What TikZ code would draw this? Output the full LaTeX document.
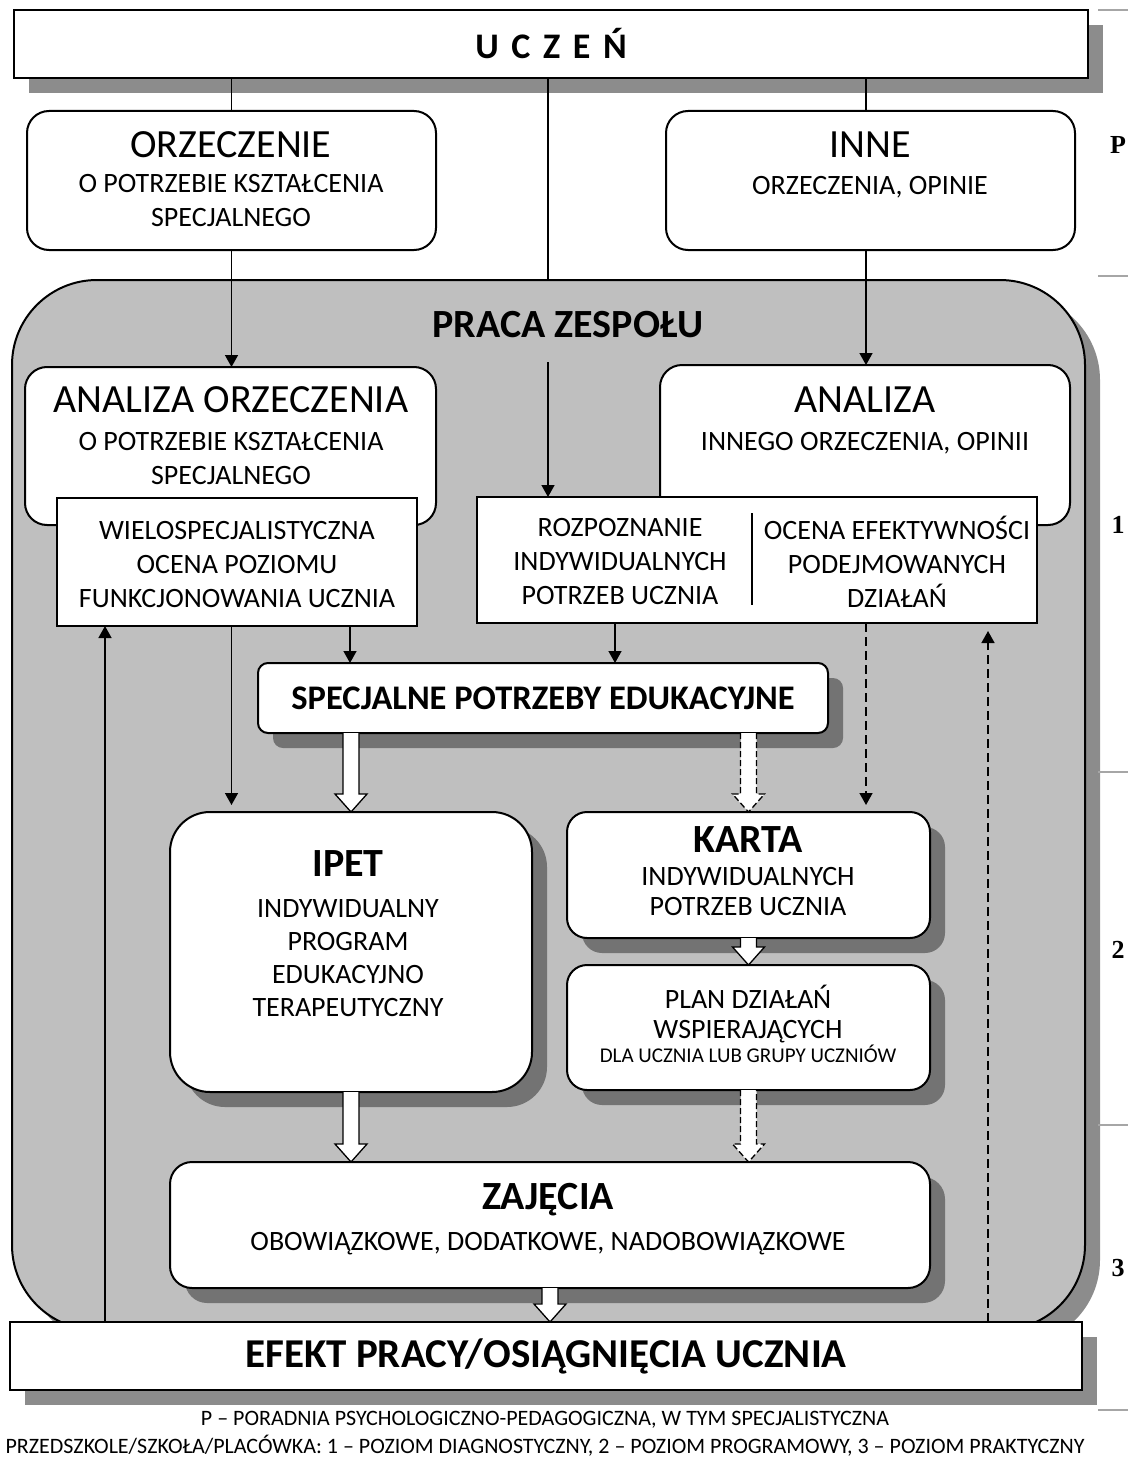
\documentclass[tikz,border=0pt]{standalone}
\usepackage{fontspec}
\setmainfont{Carlito}
\newfontfamily\sidefont{Liberation Serif}
\usetikzlibrary{arrows.meta,calc}

\newcommand\headsize{\fontsize{40}{44}\selectfont}
\newcommand\subsize{\fontsize{28}{34}\selectfont}
\newcommand\tinysize{\fontsize{21}{24}\selectfont}
\newcommand\notesize{\fontsize{22}{26}\selectfont}

\tikzset{
  box/.style={draw, line width=2pt, fill=white, inner sep=0pt, outer sep=0pt},
  shade/.style={preaction={draw=none, fill=black!45, transform canvas={shift={(15pt,-15pt)}}}},
  shadein/.style={preaction={draw=none, fill=black!55, transform canvas={shift={(15pt,-15pt)}}}},
  region/.style={draw, line width=2pt, fill=black!25, inner sep=0pt, rounded corners=85pt},
  head/.style={font=\headsize},
  bhead/.style={font=\bfseries\headsize},
  sub/.style={font=\subsize, align=center},
  arr/.style={-{Triangle[length=12pt,width=13pt]}, line width=1.5pt},
  darr/.style={arr, dash pattern=on 9pt off 5pt},
  side/.style={font=\sidefont\bfseries\fontsize{26}{26}\selectfont},
  tick/.style={draw=black!35, line width=1.2pt}
}

% hollow block arrow between two points
\newcommand\fatarrow[3][]{%
  \draw[line width=1.3pt, fill=white, #1] ($(#2)+(-8,0)$) -- ($(#3)+(-8,-18)$)
    -- ($(#3)+(-16,-18)$) -- (#3) -- ($(#3)+(16,-18)$) -- ($(#3)+(8,-18)$)
    -- ($(#2)+(8,0)$);}

\begin{document}
\begin{tikzpicture}[x=1pt,y=-1pt]
  \useasboundingbox (0,0) rectangle (1131,1458);

  \node[region, shade, minimum width=1073pt, minimum height=1050pt] (zespol) at (548.5,805) {};
  \node[box, shade, minimum width=1074pt, minimum height=68pt,
    font=\bfseries\fontsize{36}{40}\selectfont] (ucz) at (551,44)
    {U\hspace{.35em}C\hspace{.35em}Z\hspace{.35em}E\hspace{.35em}Ń};
  \draw[line width=1.5pt] (ucz.south -| 548,0) -- (zespol.north -| 548,0);

  % poradnia
  \node[box, rounded corners=22pt, minimum width=409pt, minimum height=139pt] (orz) at (231.5,180.5) {};
  \node[head] (orzT) at (231,145) {ORZECZENIE};
  \node[sub] (orzS) at (231,201) {O POTRZEBIE KSZTAŁCENIA\\SPECJALNEGO};
  \node[box, rounded corners=22pt, minimum width=409pt, minimum height=139pt] (inne) at (870.5,180.5) {};
  \node[head] (inneT) at (870,145) {INNE};
  \node[sub] (inneS) at (870,187) {ORZECZENIA, OPINIE};
  \draw[line width=1.5pt] (ucz.south -| orz.north) -- (orz.north);
  \draw[line width=1.5pt] (ucz.south -| 866,0) -- (inne.north -| 866,0);

  % praca zespolu
  \node[bhead] (zespolT) at (568,325) {PRACA ZESPOŁU};
  \coordinate (zespolIn) at (548,362);

  \node[box, rounded corners=22pt, minimum width=411pt, minimum height=158pt] (aorz) at (230.5,446) {};
  \node[head] (aorzT) at (231,400) {ANALIZA ORZECZENIA};
  \node[sub] (aorzS) at (231,459) {O POTRZEBIE KSZTAŁCENIA\\SPECJALNEGO};
  \node[box, rounded corners=22pt, minimum width=410pt, minimum height=160pt] (ainne) at (865,445) {};
  \node[head] (ainneT) at (865,400) {ANALIZA};
  \node[sub] (ainneS) at (865,443) {INNEGO ORZECZENIA, OPINII};
  \draw[arr] (orz.south) -- (orz.south |- aorz.north);
  \draw[arr] (inne.south -| 866,0) -- (ainne.north -| 866,0);

  \node[box, minimum width=360pt, minimum height=128pt] (wielo) at (237,562) {};
  \node[sub] (wieloS) at (237,565) {WIELOSPECJALISTYCZNA\\OCENA POZIOMU\\FUNKCJONOWANIA UCZNIA};
  \node[box, minimum width=560pt, minimum height=126pt] (rozp) at (757,560) {};
  \node[sub] (rozpL) at (620,562) {ROZPOZNANIE\\INDYWIDUALNYCH\\POTRZEB UCZNIA};
  \node[sub] (rozpR) at (897,562) {OCENA EFEKTYWNOŚCI\\PODEJMOWANYCH\\DZIAŁAŃ};
  \draw[line width=1.5pt] (752,513) -- (752,605);
  \draw[arr] (zespolIn) -- (rozp.north -| zespolIn);

  \node[box, shadein, rounded corners=10pt, minimum width=570pt, minimum height=70pt,
    font=\bfseries\fontsize{34.5}{38}\selectfont] (spe) at (543,698) {SPECJALNE POTRZEBY EDUKACYJNE};
  \draw[arr] (wielo.south -| 350,0) -- (spe.north -| 350,0);
  \draw[arr] (rozp.south -| 615,0) -- (spe.north -| 615,0);

  % program
  \node[box, shadein, rounded corners=40pt, minimum width=362pt, minimum height=280pt] (ipet) at (351,952) {};
  \node[bhead] (ipetT) at (348,864) {IPET};
  \node[sub, font=\fontsize{28}{33}\selectfont] (ipetS) at (348,958) {INDYWIDUALNY\\PROGRAM\\EDUKACYJNO\\TERAPEUTYCZNY};
  \node[box, shadein, rounded corners=20pt, minimum width=363pt, minimum height=126pt] (karta) at (748.5,875) {};
  \node[bhead] (kartaT) at (748,840) {KARTA};
  \node[sub, font=\fontsize{28}{30}\selectfont] (kartaS) at (748,892) {INDYWIDUALNYCH\\POTRZEB UCZNIA};
  \node[box, shadein, rounded corners=20pt, minimum width=363pt, minimum height=125pt] (plan) at (748.5,1027.5) {};
  \node[sub, font=\fontsize{28}{30}\selectfont] (planS) at (748,1014) {PLAN DZIAŁAŃ\\WSPIERAJĄCYCH};
  \node[font=\tinysize] (planT) at (748,1054) {DLA UCZNIA LUB GRUPY UCZNIÓW};

  \draw[arr, shorten >=7pt] (wielo.south -| orz.south) -- (ipet.north -| orz.south);
  \draw[darr, shorten >=7pt] (rozp.south -| 866,0) -- (karta.north -| 866,0);
  \fatarrow{spe.south -| ipet.north}{ipet.north}
  \fatarrow[dash pattern=on 6pt off 3pt]{spe.south -| karta.north}{karta.north}
  \fatarrow{karta.south}{plan.north}

  % praktyka
  \node[box, shadein, rounded corners=22pt, minimum width=760pt, minimum height=126pt] (zaj) at (550,1225) {};
  \node[bhead] (zajT) at (548,1200) {ZAJĘCIA};
  \node[sub] (zajS) at (548,1244) {OBOWIĄZKOWE, DODATKOWE, NADOBOWIĄZKOWE};
  \fatarrow{ipet.south}{zaj.north -| ipet.south}
  \fatarrow[dash pattern=on 6pt off 3pt]{plan.south}{zaj.north -| plan.south}

  \node[box, shade, minimum width=1072pt, minimum height=68pt,
    font=\bfseries\fontsize{41}{44}\selectfont] (efekt) at (546,1356) {EFEKT PRACY/OSIĄGNIĘCIA UCZNIA};
  \fatarrow{zaj.south}{efekt.north -| zaj.south}
  \draw[arr] (efekt.north -| 105,0) -- (wielo.south -| 105,0);
  \draw[darr, shorten >=8pt] (efekt.north -| 988,0) -- (rozp.south -| 988,0);

  % poziomy
  \foreach \y in {10,276,772,1125,1410}
    \draw[tick] (1098,\y) -- (1128,\y);
  \foreach \t/\y in {P/145,1/525,2/950,3/1268}
    \node[side] (lvl\t) at (1118,\y) {\t};

  \node[font=\notesize] (note1) at (545,1420) {P – PORADNIA PSYCHOLOGICZNO-PEDAGOGICZNA, W TYM SPECJALISTYCZNA};
  \node[font=\notesize] (note2) at (545,1446) {PRZEDSZKOLE/SZKOŁA/PLACÓWKA: 1 – POZIOM DIAGNOSTYCZNY, 2 – POZIOM PROGRAMOWY, 3 – POZIOM PRAKTYCZNY};
\end{tikzpicture}
\end{document}
